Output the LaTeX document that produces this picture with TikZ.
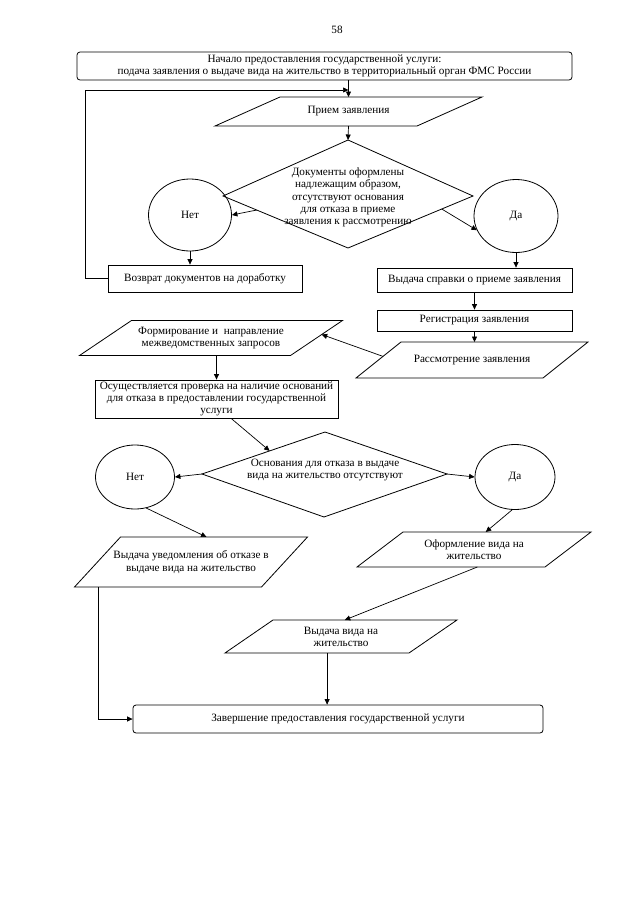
\documentclass[tikz,border=0pt]{standalone}
\usepackage{fontspec}
\setmainfont{Liberation Serif}
\usetikzlibrary{shapes.geometric,arrows.meta,calc}
\newcommand\myparal[7]{%
  \coordinate (#1-tl) at ({#2-#4/2+#6/2},{#3-#5/2});
  \coordinate (#1-tr) at ({#2+#4/2+#6/2},{#3-#5/2});
  \coordinate (#1-br) at ({#2+#4/2-#6/2},{#3+#5/2});
  \coordinate (#1-bl) at ({#2-#4/2-#6/2},{#3+#5/2});
  \draw[shapeline] (#1-tl) -- (#1-tr) -- (#1-br) -- (#1-bl) -- cycle;
  \node[lbl] (#1) at (#2,#3) {#7};
}
\begin{document}
\begin{tikzpicture}[x=1pt,y=-1pt,
  font=\fontsize{11.2}{12.2}\selectfont,
  shapeline/.style={draw, line width=0.8pt, line join=miter},
  arr/.style={line width=0.7pt, -{Triangle[length=5.5pt,width=5pt]}},
  box/.style={draw, line width=0.8pt, inner sep=0pt, align=center},
  lbl/.style={align=center, inner sep=0pt},
  oval/.style={ellipse, draw, line width=0.8pt, inner sep=0pt}]
\useasboundingbox (0,0) rectangle (640,905);
\fill[white] (0,0) rectangle (640,905);

\node[lbl] (pg) at (337,30) {58};

% start box
\node[box, rounded corners=3pt, minimum width=495pt, minimum height=28pt] (start) at (324.5,66)
  {Начало предоставления государственной услуги:\\подача заявления о выдаче вида на жительство в территориальный орган ФМС России};

% Прием заявления
\myparal{pr}{348.5}{111.5}{202}{29}{65}{Прием заявления}

% diamond 1
\coordinate (d1-t) at (348,140);
\coordinate (d1-l) at (223,196);
\coordinate (d1-r) at (473,196);
\coordinate (d1-b) at (348,248);
\draw[shapeline] (d1-t) -- (d1-r) -- (d1-b) -- (d1-l) -- cycle;
\node[lbl] (d1) at (348,197.5)
  {Документы оформлены\\надлежащим образом,\\отсутствуют основания\\для отказа в приеме\\заявления к рассмотрению};

\node[oval, minimum width=83pt, minimum height=72pt] (n1) at (190,215) {Нет};
\node[oval, minimum width=84pt, minimum height=73pt] (y1) at (516,216) {Да};

\node[box, minimum width=194pt, minimum height=27pt] (ret) at (205,278.5) {Возврат документов на доработку};
\node[box, minimum width=195pt, minimum height=24pt] (spr) at (474.5,280) {Выдача справки о приеме заявления};
\node[box, minimum width=195pt, minimum height=21pt] (reg) at (474.5,320.5) {Регистрация заявления};

\myparal{ras}{472}{360}{187}{36}{45}{Рассмотрение заявления}
\myparal{form}{211}{338}{211}{35}{52}{Формирование и\ \ направление\\межведомственных запросов}

\node[box, minimum width=243pt, minimum height=38pt] (chk) at (216.5,399)
  {Осуществляется проверка на наличие оснований\\для отказа в предоставлении государственной\\услуги};

% diamond 2
\coordinate (d2-t) at (325,432);
\coordinate (d2-l) at (202,474);
\coordinate (d2-r) at (447,474);
\coordinate (d2-b) at (324,517);
\draw[shapeline] (d2-t) -- (d2-r) -- (d2-b) -- (d2-l) -- cycle;
\node[lbl] (d2) at (325,470) {Основания для отказа в выдаче\\вида на жительство отсутствуют};

\node[oval, minimum width=79pt, minimum height=64pt] (n2) at (135,477) {Нет};
\node[oval, minimum width=80pt, minimum height=65pt] (y2) at (515,477) {Да};

\myparal{ud}{191}{562}{187}{50}{46}{Выдача уведомления об отказе в\\выдаче вида на жительство}
\myparal{of}{474}{549.5}{188}{35}{46}{Оформление вида на\\жительство}
\myparal{vv}{341}{636.5}{184}{33}{48}{Выдача вида на\\жительство}

\node[box, rounded corners=3pt, minimum width=410pt, minimum height=28pt] (end) at (338,719)
  {Завершение предоставления государственной услуги};

% connectors
\draw[arr] (start.south -| pr) -- (pr-tl -| pr);
\coordinate (lp) at (85,90);
\draw[arr] (ret.west) -| (lp) -- (lp -| pr);
\draw[arr] (pr-bl -| pr) -- (d1-t);
\draw[arr] ($(d1-l)!0.27!(d1-b)$) -- (n1.east);
\draw[arr] ($(d1-r)!0.25!(d1-b)$) -- (y1.200);
\draw[arr] (n1.south) -- (n1.south |- ret.north);
\draw[arr] (y1.south) -- (y1.south |- spr.north);
\draw[arr] (spr.south) -- (reg.north);
\draw[arr] (reg.south) -- (ras-tl -| reg);
\draw[arr] ($(ras-bl)!0.6!(ras-tl)$) -- ($(form-br)!0.6!(form-tr)$);
\draw[arr] (form-bl -| chk) -- (chk.north);
\draw[arr] ($(chk.south west)!0.56!(chk.south east)$) -- ($(d2-l)!0.55!(d2-t)$);
\draw[arr] (d2-l) -- (n2.east);
\draw[arr] (d2-r) -- (y2.west);
\draw[arr] (n2.290) -- ($(ud-tl)!0.46!(ud-tr)$);
\draw[arr] (y2.265) -- ($(of-tl)!0.44!(of-tr)$);
\draw[arr] ($(of-bl)!0.64!(of-br)$) -- ($(vv-tl)!0.39!(vv-tr)$);
\coordinate (vvo) at ($(vv-bl)!0.555!(vv-br)$);
\draw[arr] (vvo) -- (vvo |- end.north);
\draw[arr] ($(ud-bl)!0.13!(ud-br)$) |- (end.west);
\end{tikzpicture}
\end{document}
